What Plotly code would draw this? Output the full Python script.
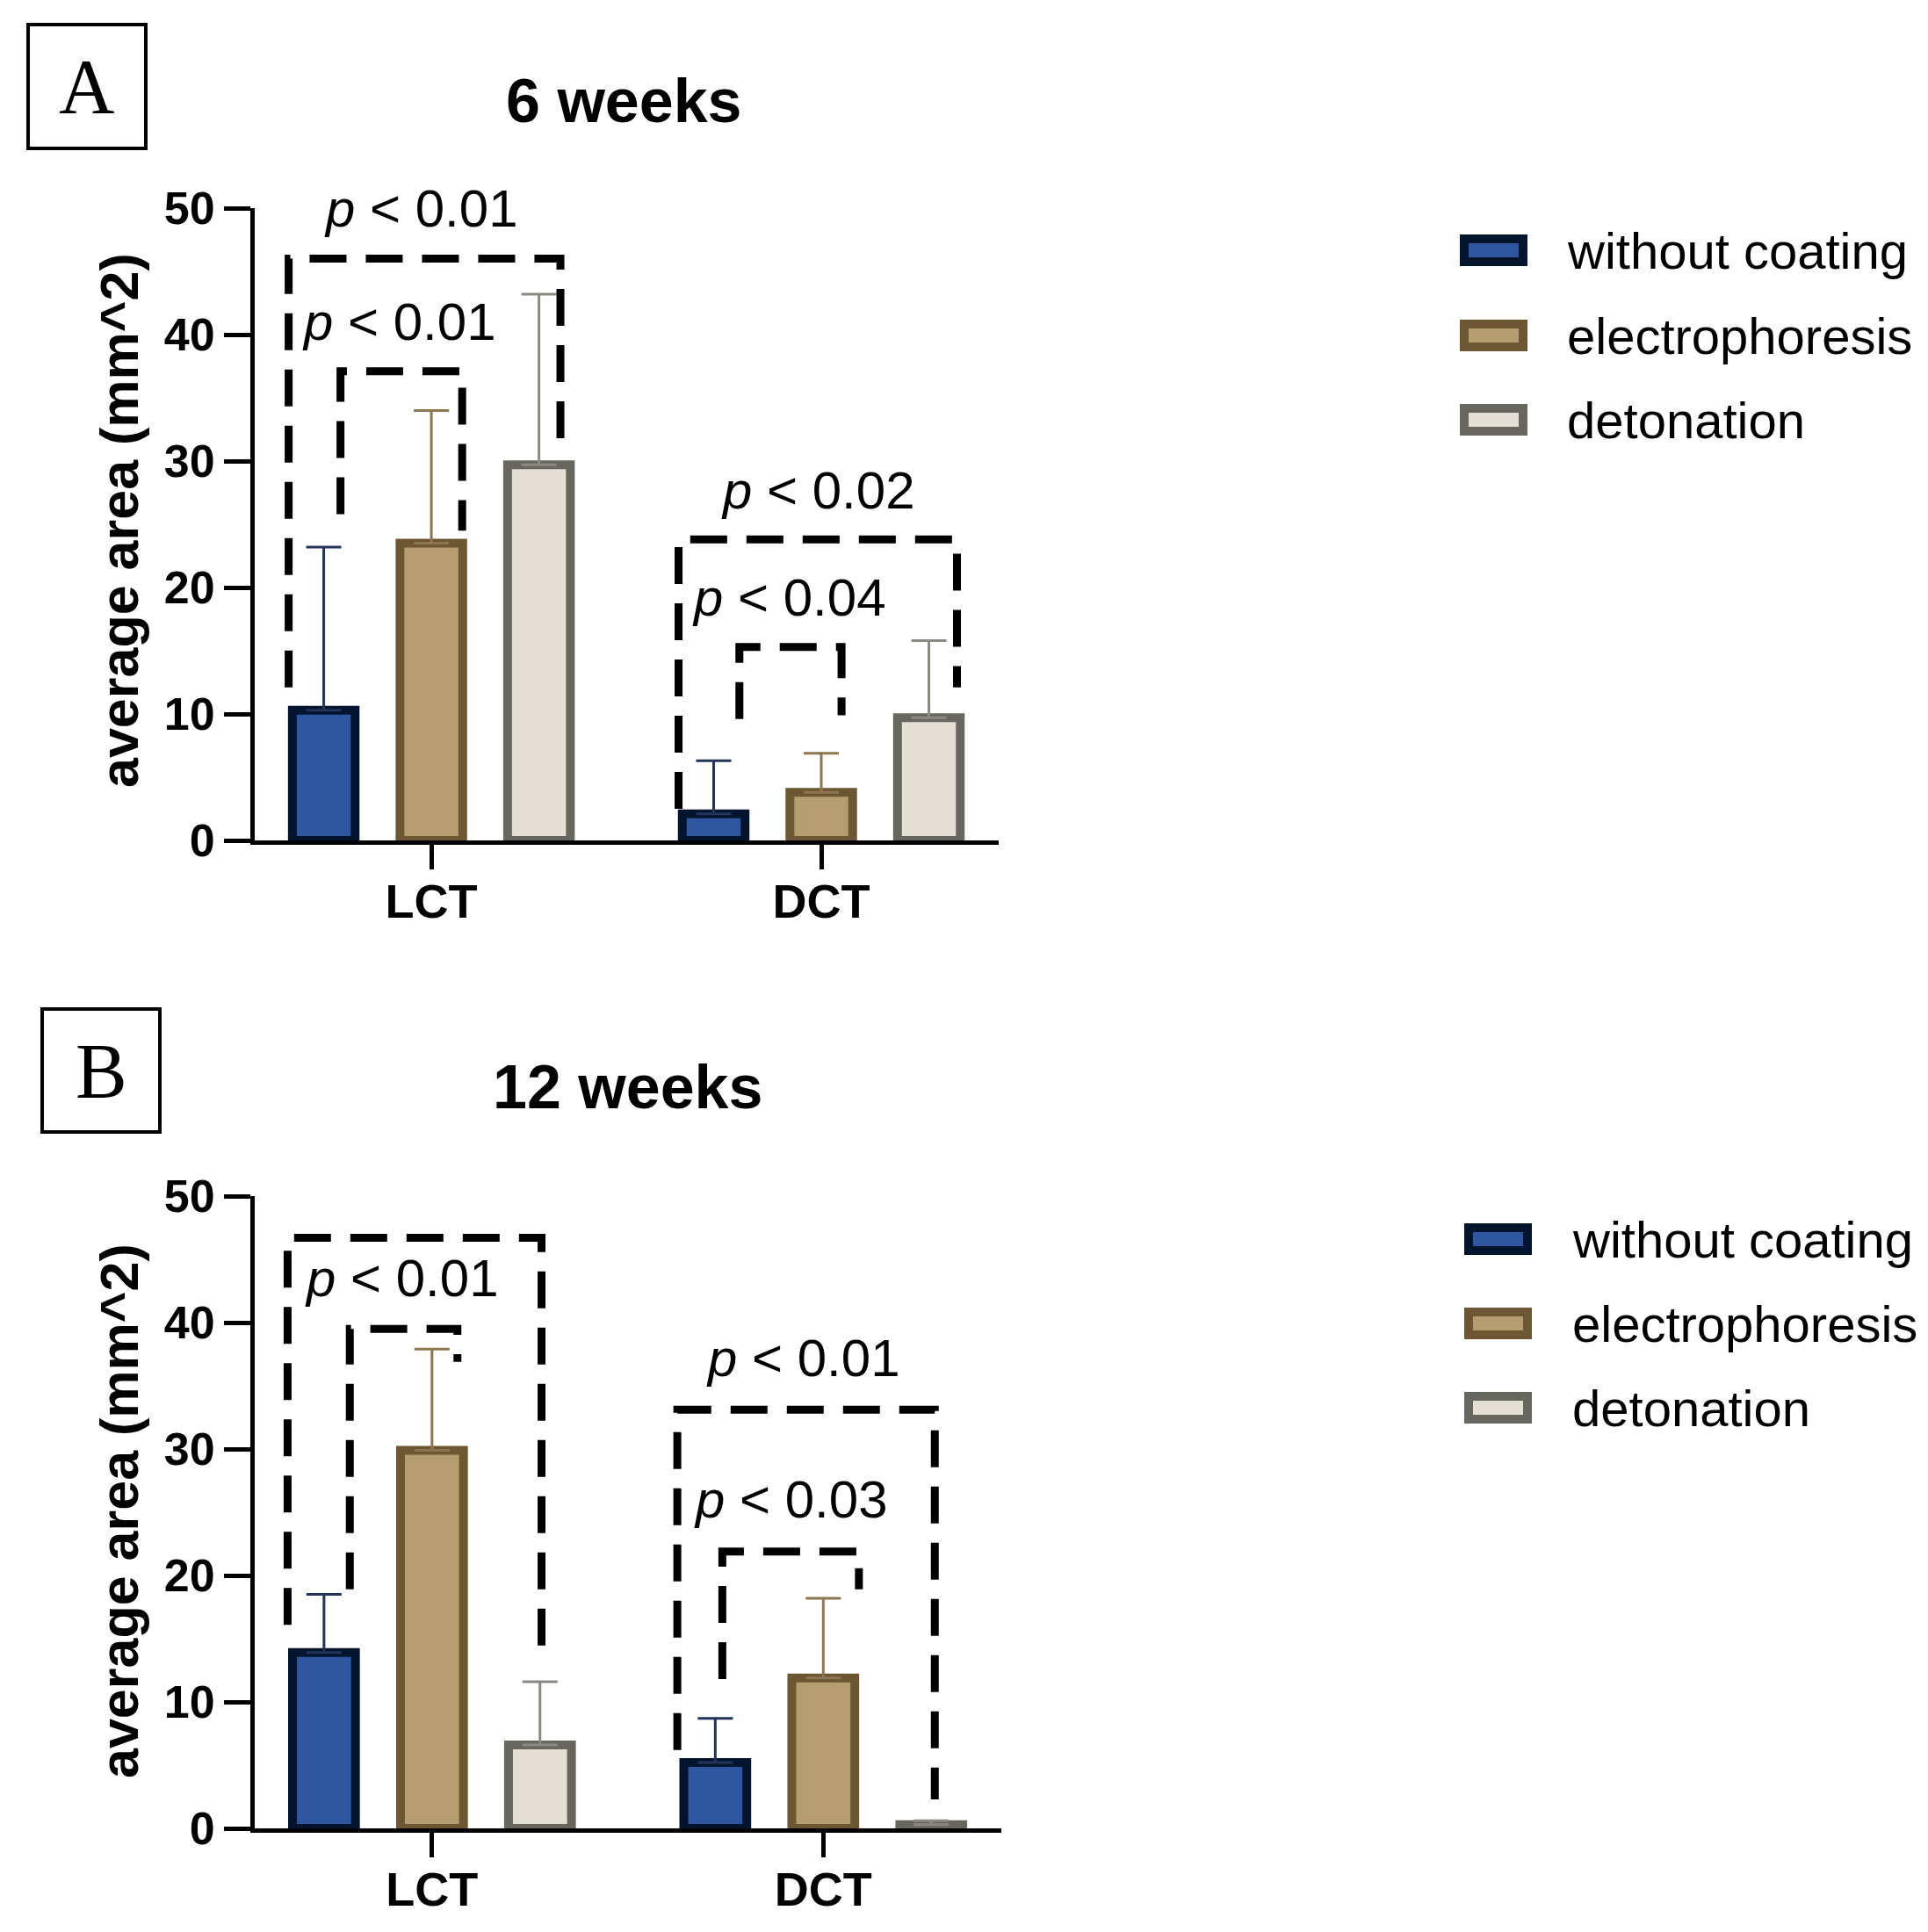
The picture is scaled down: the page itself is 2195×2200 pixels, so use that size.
import plotly.graph_objects as go

# ---------------- data ----------------
categories = ["LCT", "DCT"]
series_names = ["without coating", "electrophoresis", "detonation"]
y_ticks = [0, 10, 20, 30, 40, 50]

# 6 weeks
w6_without = [10.3, 2.1]
w6_electro = [23.5, 3.8]
w6_deton = [29.7, 9.7]
w6_without_err = [12.9, 4.2]
w6_electro_err = [10.5, 3.1]
w6_deton_err = [13.5, 6.1]

# 12 weeks
w12_without = [13.9, 5.2]
w12_electro = [29.9, 11.9]
w12_deton = [6.6, 0.3]
w12_without_err = [4.6, 3.5]
w12_electro_err = [8.0, 6.3]
w12_deton_err = [5.0, 0.3]

# significance labels
w6_labels = ["p < 0.01", "p < 0.01", "p < 0.02", "p < 0.04"]
w12_labels = ["p < 0.01", "p < 0.01", "p < 0.01", "p < 0.03"]

# ---------------- styles ----------------
fill_colors = ["#2f56a0", "#b59d70", "#e3dfd4"]
line_colors = ["#03142f", "#6d5732", "#67665f"]
err_colors = ["#22345a", "#8c7650", "#8a8983"]

W, H = 2195, 2200
PAGE_OFFSET = 8  # default body margin of the html page
FONT = "Liberation Sans, Arial, sans-serif"

# bracket geometry: (category index, left offset, right offset, top, left leg bottom,
#                    right leg bottom, label x offset, label y)
w6_brackets = [
    (0, -0.366, 0.331, 46.0, 12.1, 31.8, -0.026, 50.0),
    (0, -0.233, 0.079, 37.1, 25.8, 24.5, -0.083, 41.0),
    (1, -0.366, 0.348, 23.8, 2.5, 12.1, -0.009, 27.7),
    (1, -0.210, 0.052, 15.3, 9.6, 9.9, -0.083, 19.2),
]
w12_brackets = [
    (0, -0.369, 0.280, 46.7, 16.1, 13.2, -0.052, 50.6),
    (0, -0.210, 0.065, 39.5, 18.9, 36.9, -0.077, 43.5),
    (1, -0.373, 0.285, 33.1, 6.2, 2.3, -0.052, 37.2),
    (1, -0.258, 0.091, 21.9, 11.8, 18.9, -0.082, 26.0),
]

fig = go.Figure()


def px_x(v):
    return (v - PAGE_OFFSET) / W


def px_y(v):
    return 1 - (v - PAGE_OFFSET) / H


def add_panel(xa, ya, means, errs, brackets, labels):
    for i in range(3):
        fig.add_trace(go.Bar(
            x=list(range(len(categories))), y=means[i], name=series_names[i],
            xaxis=xa, yaxis=ya, offsetgroup=str(i),
            marker=dict(color=fill_colors[i], line=dict(color=line_colors[i], width=10)),
            error_y=dict(type="data", symmetric=False, array=errs[i],
                         arrayminus=[0] * len(errs[i]), color=err_colors[i],
                         thickness=3, width=20),
            showlegend=False,
        ))
    axref = "x" if xa == "x" else "x2"
    ayref = "y" if ya == "y" else "y2"
    for (ci, lo, ro, top, lb, rb, lx, ly), lab in zip(brackets, labels):
        fig.add_trace(go.Scatter(
            x=[ci + lo, ci + lo, ci + ro, ci + ro], y=[lb, top, top, rb],
            mode="lines", xaxis=xa, yaxis=ya, showlegend=False, hoverinfo="skip",
            line=dict(color="black", width=9, dash="42px,22px"),
        ))
        p, rest = lab.split(" ", 1)
        fig.add_annotation(
            x=ci + lx, y=ly, xref=axref, yref=ayref, showarrow=False,
            text="<i>" + p + "</i> " + rest.replace("<", "&lt;"),
            font=dict(family=FONT, size=60, color="black"),
            xanchor="center", yanchor="middle",
        )


add_panel("x", "y",
          [w6_without, w6_electro, w6_deton],
          [w6_without_err, w6_electro_err, w6_deton_err],
          w6_brackets, w6_labels)
add_panel("x2", "y2",
          [w12_without, w12_electro, w12_deton],
          [w12_without_err, w12_electro_err, w12_deton_err],
          w12_brackets, w12_labels)

xax = dict(range=[-0.453, 1.455], tickvals=list(range(len(categories))), ticktext=categories,
           showline=True, linewidth=5, linecolor="black", ticks="outside", ticklen=28,
           tickwidth=5, tickcolor="black", showgrid=False, zeroline=False, automargin=False,
           ticklabelstandoff=-10,
           tickfont=dict(family=FONT, size=54, weight="bold", color="black"))
yax = dict(range=[0, 50], tickvals=y_ticks, showline=True, linewidth=5, linecolor="black",
           ticks="outside", ticklen=30, tickwidth=5, tickcolor="black", showgrid=False,
           zeroline=False, automargin=False,
           tickfont=dict(family=FONT, size=52, weight="bold", color="black"))

fig.update_layout(
    width=W, height=H, margin=dict(l=0, r=0, t=0, b=0, pad=0, autoexpand=False),
    plot_bgcolor="white", paper_bgcolor="white",
    barmode="group", bargap=0.172, bargroupgap=0.417, showlegend=False,
    font=dict(family=FONT, color="black"),
    xaxis=dict(xax, domain=[px_x(290), px_x(1137)], anchor="y"),
    yaxis=dict(yax, domain=[px_y(957), px_y(237)], anchor="x"),
    xaxis2=dict(xax, domain=[px_x(290), px_x(1140)], anchor="y2"),
    yaxis2=dict(yax, domain=[px_y(2082), px_y(1362)], anchor="x2"),
)

# panel letters, titles, y axis titles
panels = [
    ("A", (32, 28, 166, 169), "6 weeks", (710, 115), 593),
    ("B", (48, 1149, 182, 1289), "12 weeks", (714, 1238), 1721),
]
for letter, (x0, y0, x1, y1), title, (tx, ty), yc in panels:
    fig.add_shape(type="rect", xref="paper", yref="paper",
                  x0=px_x(x0), x1=px_x(x1), y0=px_y(y1), y1=px_y(y0),
                  line=dict(color="black", width=4), fillcolor="rgba(0,0,0,0)")
    fig.add_annotation(x=px_x((x0 + x1) / 2), y=px_y((y0 + y1) / 2), xref="paper", yref="paper",
                       text=letter, showarrow=False, xanchor="center", yanchor="middle",
                       font=dict(family="Liberation Serif, Times New Roman, serif", size=88,
                                 color="black"))
    fig.add_annotation(x=px_x(tx), y=px_y(ty), xref="paper", yref="paper", text=title,
                       showarrow=False, xanchor="center", yanchor="middle",
                       font=dict(family=FONT, size=70, weight="bold", color="black"))
    fig.add_annotation(x=px_x(136), y=px_y(yc), xref="paper", yref="paper",
                       text="average area (mm^2)", textangle=-90, showarrow=False,
                       xanchor="center", yanchor="middle",
                       font=dict(family=FONT, size=61, weight="bold", color="black"))

# legends (one per panel)
legend_specs = [(1662, 1782, [285, 382, 478]), (1667, 1788, [1411, 1507, 1603])]
for sx, tx, rows in legend_specs:
    for i, ry in enumerate(rows):
        fig.add_shape(type="rect", xref="paper", yref="paper",
                      x0=px_x(sx + 5), x1=px_x(sx + 77 - 5),
                      y0=px_y(ry + 18 - 5), y1=px_y(ry - 18 + 5),
                      line=dict(color=line_colors[i], width=10), fillcolor=fill_colors[i])
        fig.add_annotation(x=px_x(tx), y=px_y(ry), xref="paper", yref="paper",
                           text=series_names[i], showarrow=False, xanchor="left",
                           yanchor="middle",
                           font=dict(family=FONT, size=58, color="black"))

fig.write_html("out.html")
